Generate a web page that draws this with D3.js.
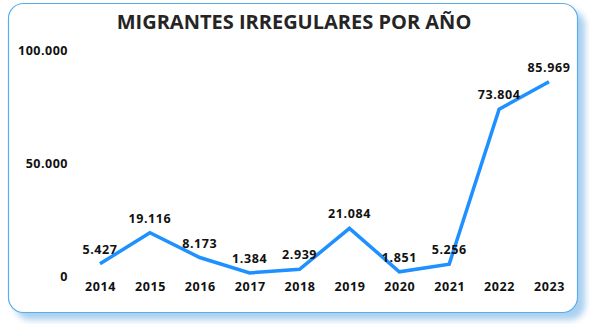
<!DOCTYPE html>
<html><head><meta charset="utf-8">
<script src="https://cdn.jsdelivr.net/npm/d3@7"></script>
<style>
html,body{margin:0;padding:0;background:#fff;}
svg{display:block;}
text{font-family:"Open Sans","Noto Sans",sans-serif;font-weight:700;}
</style></head>
<body>
<svg id="c" width="590" height="324"></svg>
<script>
const years = ["2014","2015","2016","2017","2018","2019","2020","2021","2022","2023"];
const migrants = [5427,19116,8173,1384,2939,21084,1851,5256,73804,85969];
const yTicks = [0,50000,100000];
const title = "MIGRANTES IRREGULARES POR AÑO";

const svg = d3.select("#c");
const defs = svg.append("defs");
const f = defs.append("filter").attr("id","sh").attr("x","-10%").attr("y","-10%").attr("width","130%").attr("height","130%");
f.append("feGaussianBlur").attr("in","SourceAlpha").attr("stdDeviation","3").attr("result","b");
f.append("feOffset").attr("in","b").attr("dx","7").attr("dy","7").attr("result","o");
f.append("feFlood").attr("flood-color","#8fc0ea").attr("flood-opacity","0.75");
f.append("feComposite").attr("in2","o").attr("operator","in").attr("result","s");
const m = f.append("feMerge");
m.append("feMergeNode").attr("in","s");
m.append("feMergeNode").attr("in","SourceGraphic");

svg.append("rect").attr("x",8.5).attr("y",3.5).attr("width",569).attr("height",309)
  .attr("rx",15).attr("fill","#fff").attr("stroke","#5aaeea").attr("stroke-width",1.2)
  .attr("filter","url(#sh)");

svg.append("text").attr("x",294).attr("y",29).attr("text-anchor","middle")
  .attr("font-size",20).attr("fill","#252525").text(title);

const x = d3.scalePoint().domain(years).range([100,549]);
const y = d3.scaleLinear().domain([0,100000]).range([276,50]);
const fmt = v => d3.format(",")(v).replace(/,/g,".");

const yAxis = d3.axisLeft(y).tickValues(yTicks).tickSize(0).tickPadding(0).tickFormat(fmt);
const ga = svg.append("g").attr("transform","translate(68,0)").call(yAxis);
ga.select(".domain").remove();
ga.selectAll("text").attr("font-size",12.5).attr("letter-spacing",0.5).attr("fill","#111").attr("font-family",null);

const xAxis = d3.axisBottom(x).tickSize(0).tickPadding(0);
const gx = svg.append("g").attr("transform","translate(0,282)").call(xAxis);
gx.select(".domain").remove();
gx.selectAll("text").attr("font-size",12.5).attr("letter-spacing",0.6).attr("fill","#111").attr("font-family",null);

const line = d3.line().x((d,i)=>x(years[i])).y(d=>y(d));
svg.append("path").datum(migrants).attr("d",line).attr("fill","none")
  .attr("stroke","#1e90ff").attr("stroke-width",3.5).attr("stroke-linejoin","miter");

svg.selectAll(".lbl").data(migrants).enter().append("text")
  .attr("x",(d,i)=>x(years[i])).attr("y",d=>y(d)-10)
  .attr("text-anchor","middle").attr("font-size",12.5).attr("letter-spacing",0.6).attr("fill","#111").text(fmt);
</script>
</body></html>
